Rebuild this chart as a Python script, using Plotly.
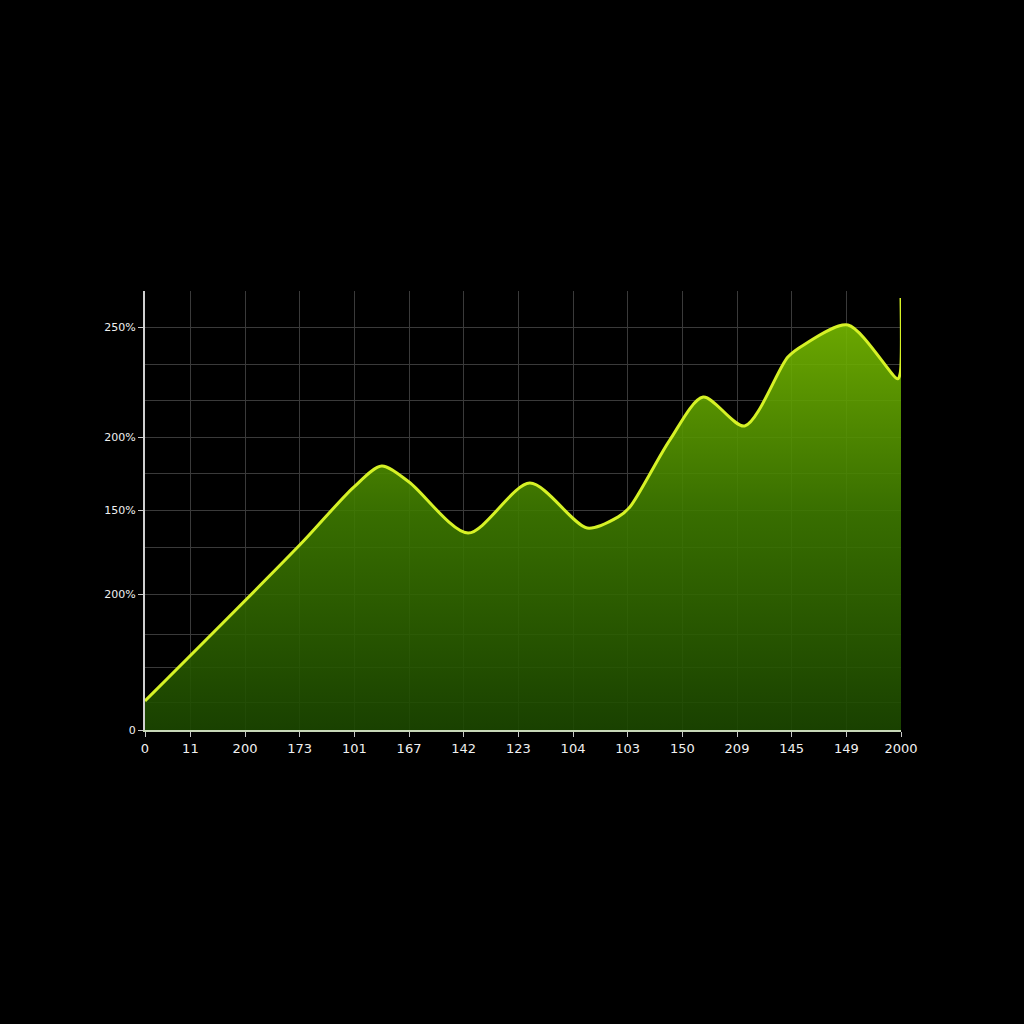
import plotly.graph_objects as go

# Tick categories along the x axis (positions on the category scale)
x_tick_pos = [0.17, 1, 2, 3, 4, 5, 6, 7, 8, 9, 10, 11, 12, 13, 14]
x_tick_labels = ["0", "11", "200", "173", "101", "167", "142", "123",
                 "104", "103", "150", "209", "145", "149", "2000"]

# Y axis labelled ticks and extra grid lines
y_tick_vals = [0, 74, 120, 160, 220]
y_tick_labels = ["0", "200%", "150%", "200%", "250%"]
y_grid_vals = [15, 34, 52, 100, 140, 180, 200, 240]

# Series
curve_x = [0.17, 3.0, 3.99, 4.50, 5.0, 6.08, 7.21, 8.26, 8.82, 9.04,
           9.77, 10.38, 11.14, 11.93, 12.22, 13.03, 13.94, 13.985, 14.0]
curve_y = [15.9, 101.1, 132.8, 144.3, 135.6, 107.7, 135.0, 110.4, 116.4,
           121.9, 158.5, 182.0, 166.2, 203.9, 210.5, 221.4, 192.0, 195.0, 236.2]

fig = go.Figure()
fig.add_trace(go.Scatter(
    x=curve_x, y=curve_y,
    mode="lines",
    line=dict(color="#d6f226", width=3, shape="spline", smoothing=0.8),
    fill="tozeroy",
    fillgradient=dict(type="vertical",
                      colorscale=[[0, "rgba(28,72,0,0.9)"],
                                  [0.5, "rgba(62,122,0,0.9)"],
                                  [1, "rgba(126,194,0,0.9)"]]),
    hoverinfo="skip",
    showlegend=False,
))

fig.update_layout(
    width=1024, height=1024,
    paper_bgcolor="#000000",
    plot_bgcolor="#000000",
    margin=dict(l=145, r=123, t=291, b=294),
    font=dict(family="DejaVu Sans", color="#e6e6e6"),
    showlegend=False,
)

fig.update_xaxes(
    range=[0.17, 14],
    tickmode="array", tickvals=x_tick_pos, ticktext=x_tick_labels,
    tickfont=dict(size=13, color="#f0f0f0"),
    showgrid=True, gridcolor="#3a3a3a", gridwidth=1,
    showline=True, linecolor="#c8d8b8", linewidth=2,
    ticks="outside", ticklen=5, tickcolor="#c8c8c8", tickwidth=1,
    zeroline=False, fixedrange=True,
)

fig.update_yaxes(
    range=[0, 240],
    tickmode="array", tickvals=y_tick_vals, ticktext=y_tick_labels,
    tickfont=dict(size=11, color="#f0f0f0"),
    showgrid=True, gridcolor="#3a3a3a", gridwidth=1,
    minor=dict(tickmode="array", tickvals=y_grid_vals, showgrid=True,
               gridcolor="#3a3a3a", gridwidth=1, ticks=""),
    showline=True, linecolor="#d0d0d0", linewidth=2,
    ticks="outside", ticklen=5, tickcolor="#c8c8c8", tickwidth=1,
    zeroline=False, fixedrange=True,
)

fig.write_html(
    "out.html",
    config={"displayModeBar": False},
    post_script="document.body.style.margin='0';"
                "document.body.style.background='#000';",
)
